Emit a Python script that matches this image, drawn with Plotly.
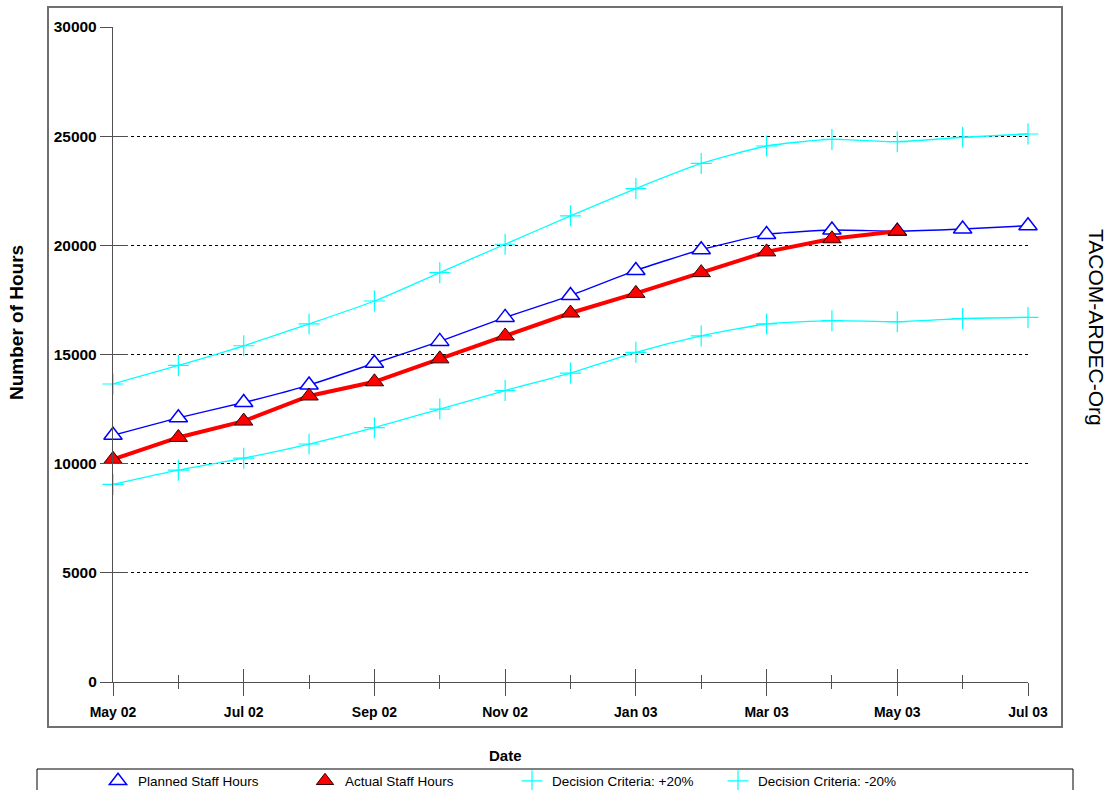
import plotly.graph_objects as go

months = ["May 02", "Jun 02", "Jul 02", "Aug 02", "Sep 02", "Oct 02", "Nov 02", "Dec 02",
          "Jan 03", "Feb 03", "Mar 03", "Apr 03", "May 03", "Jun 03", "Jul 03"]
planned = [11300, 12100, 12800, 13600, 14600, 15600, 16700, 17700,
           18850, 19800, 20500, 20700, 20650, 20750, 20900]
actual = [10200, 11200, 11950, 13100, 13750, 14800, 15850, 16900,
          17800, 18750, 19700, 20300, 20650]
upper = [13650, 14500, 15400, 16400, 17450, 18750, 20050, 21350,
         22600, 23750, 24550, 24850, 24750, 24950, 25100]
lower = [9050, 9700, 10250, 10900, 11650, 12500, 13350, 14150,
         15100, 15850, 16400, 16550, 16500, 16650, 16700]
y_ticks = [0, 5000, 10000, 15000, 20000, 25000, 30000]

xi = list(range(len(months)))
FONT = "Liberation Sans, Arial, sans-serif"
CYAN = "#00FFFF"

fig = go.Figure()

for name, vals in [("Decision Criteria: +20%", upper), ("Decision Criteria: -20%", lower)]:
    fig.add_trace(go.Scatter(
        x=xi, y=vals, mode="lines+markers", name=name, showlegend=False,
        line=dict(color=CYAN, width=1.3, shape="spline", smoothing=0.6),
        marker=dict(symbol="cross-thin", size=15, line=dict(color=CYAN, width=1.2)),
        cliponaxis=False))
fig.add_trace(go.Scatter(
    x=xi, y=planned, mode="lines+markers", name="Planned Staff Hours", showlegend=False,
    line=dict(color="#0000FF", width=1.4, shape="spline", smoothing=0.5),
    marker=dict(symbol="triangle-up", size=16, color="white", line=dict(color="#0000FF", width=1.5)),
    cliponaxis=False))
fig.add_trace(go.Scatter(
    x=xi[:len(actual)], y=actual, mode="lines+markers", name="Actual Staff Hours", showlegend=False,
    line=dict(color="#FF0000", width=4),
    marker=dict(symbol="triangle-up", size=16, color="#FF0000", line=dict(color="#300000", width=1)),
    cliponaxis=False))

# legend-only entries (marker only); two of them also anchor the overlay tick axes
leg_items = [
    ("Planned Staff Hours", dict(symbol="triangle-up", size=15, color="white", line=dict(color="#0000FF", width=1.5)), "legend", "x2", "y"),
    ("Actual Staff Hours", dict(symbol="triangle-up", size=15, color="#FF0000", line=dict(color="#300000", width=1)), "legend2", "x", "y2"),
    ("Decision Criteria: +20%", dict(symbol="cross-thin", size=15, line=dict(color=CYAN, width=1.2)), "legend3", "x", "y"),
    ("Decision Criteria: -20%", dict(symbol="cross-thin", size=15, line=dict(color=CYAN, width=1.2)), "legend4", "x", "y"),
]
for name, mk, lg, xa, ya in leg_items:
    fig.add_trace(go.Scatter(x=[None], y=[None], mode="markers", name=name, marker=mk,
                             legend=lg, xaxis=xa, yaxis=ya))

W, H = 1110, 790
L, R, T, B = 113, 82, 27, 108
pw, ph = W - L - R, H - T - B

def px(x):
    return (x - L) / pw

def py(y):
    return (H - B - y) / ph

text_starts = [138, 345, 552, 758]
leg_common = dict(orientation="h", yanchor="middle", y=py(781), xanchor="left",
                  bgcolor="rgba(0,0,0,0)", borderwidth=0,
                  font=dict(family=FONT, size=13.5, color="black"))
legends = {}
for i, key in enumerate(["legend", "legend2", "legend3", "legend4"]):
    legends[key] = dict(leg_common, x=px(text_starts[i] - 40))

xtickfont = dict(family=FONT, size=14, color="black", weight="bold")
ytickfont = dict(family=FONT, size=15.5, color="black", weight="bold")
AX = "#505050"

fig.update_layout(
    width=W, height=H, margin=dict(l=L, r=R, t=T, b=B, autoexpand=False),
    paper_bgcolor="white", plot_bgcolor="white",
    xaxis=dict(range=[0, len(months) - 1], showgrid=False, zeroline=False,
               showline=True, linecolor=AX, linewidth=1.3,
               tickmode="array", tickvals=xi[::2], ticktext=months[::2],
               ticks="outside", ticklen=13, tickcolor=AX, tickwidth=1.3,
               ticklabelstandoff=4,
               minor=dict(tickmode="array", tickvals=xi[1::2], ticks="outside",
                          ticklen=6, tickcolor=AX, tickwidth=1.3, showgrid=False),
               tickfont=xtickfont),
    xaxis2=dict(range=[0, len(months) - 1], overlaying="x", anchor="y", side="bottom",
                showgrid=False, zeroline=False, showline=False, showticklabels=False,
                tickmode="array", tickvals=xi[::2], ticks="inside", ticklen=13,
                tickcolor=AX, tickwidth=1.3,
                minor=dict(tickmode="array", tickvals=xi[1::2], ticks="inside",
                           ticklen=7, tickcolor=AX, tickwidth=1.3, showgrid=False)),
    yaxis=dict(range=[0, 30000], tickmode="array", tickvals=y_ticks, tickformat="d",
               showgrid=True, gridcolor="black", gridwidth=1, griddash="dot",
               zeroline=False, showline=True, linecolor=AX, linewidth=1.3,
               ticks="outside", ticklen=12, tickcolor=AX, tickwidth=1.3,
               tickfont=ytickfont),
    yaxis2=dict(range=[0, 30000], overlaying="y", anchor="x", side="left",
                tickmode="array", tickvals=y_ticks, showgrid=False, zeroline=False,
                showline=False, showticklabels=False, ticks="inside", ticklen=15,
                tickcolor=AX, tickwidth=1.3),
    **legends,
    shapes=[
        dict(type="rect", xref="paper", yref="paper", x0=px(48), x1=px(1062), y0=py(727), y1=py(7),
             line=dict(color="#707070", width=2), layer="below"),
        dict(type="rect", xref="paper", yref="paper", x0=px(37), x1=px(1073), y0=py(805), y1=py(769),
             line=dict(color="black", width=1), layer="below"),
    ],
    annotations=[
        dict(text="<b>Date</b>", xref="paper", yref="paper", x=px(505), y=py(755),
             xanchor="center", yanchor="middle",
             showarrow=False, font=dict(family=FONT, size=15, color="black")),
        dict(text="<b>Number of Hours</b>", xref="paper", yref="paper", x=px(16), y=py(323),
             xanchor="center", yanchor="middle",
             textangle=-90, showarrow=False, font=dict(family=FONT, size=19, color="black")),
        dict(text="TACOM-ARDEC-Org", xref="paper", yref="paper", x=px(1097), y=py(327),
             xanchor="center", yanchor="middle",
             textangle=90, showarrow=False, font=dict(family=FONT, size=21, color="black")),
    ],
)

fig.write_html("out.html", config={"displayModeBar": False},
               post_script="document.body.style.margin='0';document.body.style.overflow='hidden';")
